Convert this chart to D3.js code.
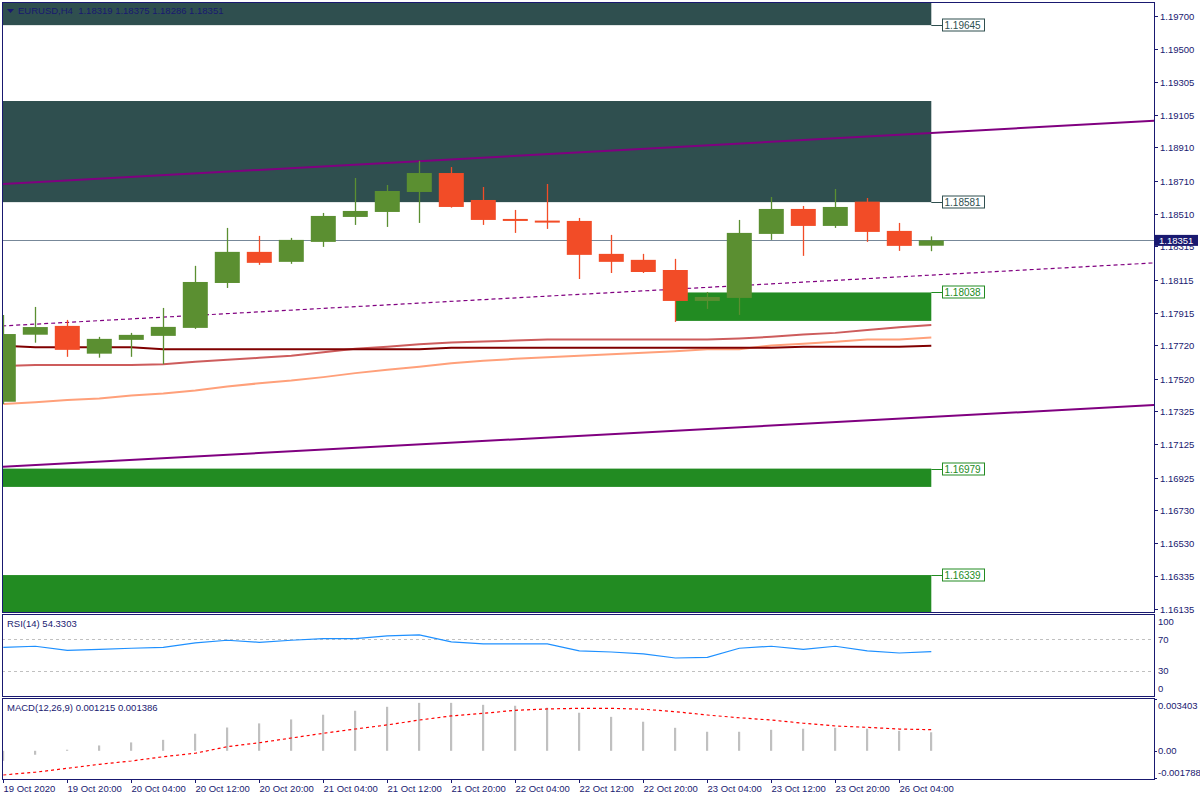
<!DOCTYPE html>
<html><head><meta charset="utf-8">
<script src="https://cdn.jsdelivr.net/npm/d3@7"></script>
<style>
body{margin:0;background:#fff;}
svg{display:block;font-family:"Liberation Sans",Arial,sans-serif;}
</style>
</head><body>
<svg id="c" width="1200" height="800"></svg>
<script>
// ---------------- DATA ----------------
const symbol = "EURUSD,H4";
const opens  = [1.17381,1.17784,1.17837,1.17670,1.17753,1.17777,1.17825,1.18095,1.18282,1.18222,1.18342,1.18492,1.18522,1.18642,1.18756,1.18594,1.18480,1.18470,1.18468,1.18270,1.18234,1.18173,1.17987,1.18005,1.18390,1.18540,1.18438,1.18584,1.18408,1.18319];
const highs  = [1.17902,1.17951,1.17873,1.17771,1.17795,1.17945,1.18198,1.18426,1.18378,1.18366,1.18516,1.18726,1.18684,1.18829,1.18792,1.18672,1.18534,1.18690,1.18486,1.18384,1.18270,1.18240,1.18041,1.18474,1.18612,1.18558,1.18660,1.18606,1.18456,1.18375];
const lows   = [1.17367,1.17736,1.17651,1.17646,1.17651,1.17607,1.17819,1.18065,1.18204,1.18210,1.18312,1.18444,1.18432,1.18456,1.18548,1.18444,1.18396,1.18420,1.18119,1.18155,1.18155,1.17861,1.17939,1.17903,1.18354,1.18258,1.18426,1.18342,1.18288,1.18286];
const closes = [1.17788,1.17830,1.17693,1.17759,1.17783,1.17831,1.18101,1.18282,1.18216,1.18354,1.18498,1.18528,1.18648,1.18756,1.18552,1.18474,1.18468,1.18462,1.18264,1.18222,1.18161,1.17987,1.18011,1.18396,1.18540,1.18438,1.18552,1.18402,1.18318,1.18351];

const timeLabelIndex = [0,2,4,6,8,10,12,14,16,18,20,22,24,26,28];
const timeLabels = ["19 Oct 2020","19 Oct 20:00","20 Oct 04:00","20 Oct 12:00","20 Oct 20:00","21 Oct 04:00","21 Oct 12:00","21 Oct 20:00","22 Oct 04:00","22 Oct 12:00","22 Oct 20:00","23 Oct 04:00","23 Oct 12:00","23 Oct 20:00","26 Oct 04:00"];

const priceTicks = [1.19700,1.19500,1.19305,1.19105,1.18910,1.18710,1.18510,1.18315,1.18115,1.17915,1.17720,1.17520,1.17325,1.17125,1.16925,1.16730,1.16530,1.16335,1.16135];

const maSlow   = [1.17717,1.17709,1.17709,1.17709,1.17709,1.17697,1.17697,1.17697,1.17697,1.17697,1.17697,1.17697,1.17697,1.17697,1.17705,1.17705,1.17705,1.17705,1.17705,1.17705,1.17705,1.17705,1.17705,1.17705,1.17705,1.17711,1.17711,1.17711,1.17711,1.17717];
const maMid    = [1.17596,1.17602,1.17602,1.17602,1.17602,1.17607,1.17621,1.17633,1.17645,1.17658,1.17679,1.17699,1.17712,1.17727,1.17737,1.17743,1.17749,1.17755,1.17755,1.17755,1.17755,1.17755,1.17755,1.17761,1.17771,1.17785,1.17795,1.17813,1.17829,1.17843];
const maFast   = [1.17368,1.17378,1.17392,1.17400,1.17418,1.17430,1.17448,1.17472,1.17492,1.17508,1.17529,1.17553,1.17573,1.17591,1.17613,1.17627,1.17639,1.17648,1.17657,1.17666,1.17675,1.17684,1.17697,1.17697,1.17719,1.17729,1.17741,1.17755,1.17755,1.17767];

// trend channel: [candle index, price]
const channelUpper = [[0,1.18690],[36,1.19071]];
const channelMid   = [[0,1.17837],[36,1.18216]];
const channelLower = [[0,1.16990],[36,1.17362]];

// zones
const zoneKind   = ["supply","supply","demand","demand","demand"];
const zoneFrom   = [-2,-2,21,-2,-2];
const zoneTo     = [29,29,29,29,29];
const zoneTop    = [1.19850,1.19189,1.18038,1.16979,1.16339];
const zoneBottom = [1.19645,1.18581,1.17867,1.16869,1.16000];
const zoneLabel  = [1.19645,1.18581,1.18038,1.16979,1.16339];

const rsiValues = [59.9,61.2,56.1,57.4,58.7,59.9,65.4,68.8,66.2,68.8,70.8,70.8,74.2,75.6,66.8,64.1,64.1,64.1,55.3,54.0,51.5,46.4,47.3,58.7,61.2,57.4,61.2,55.3,52.7,54.3303];
const rsiLevels = [70,30];
const rsiTicks  = [100,70,30,0];

const macdHist   = [-0.00066,-0.00026,0.00007,0.00035,0.00055,0.00072,0.00112,0.00153,0.00180,0.00206,0.00237,0.00263,0.00289,0.00315,0.00315,0.00302,0.00296,0.00283,0.00250,0.00223,0.00191,0.00151,0.00125,0.00125,0.00138,0.00145,0.00151,0.00145,0.00131,0.001215];
const macdSignal = [-0.00159,-0.00141,-0.00115,-0.00089,-0.00067,-0.00039,-0.00016,0.00027,0.00053,0.00084,0.00115,0.00143,0.00170,0.00202,0.00229,0.00246,0.00266,0.00275,0.00279,0.00279,0.00273,0.00257,0.00235,0.00217,0.00202,0.00181,0.00163,0.00154,0.00143,0.001386];
const macdTicks  = [0.003403,0.00,-0.001788];
const macdTickText = ["0.003403","0.00","-0.001788"];

// ---------------- LAYOUT ----------------
const FG = "#191970";
const BULL = "#5b8f31", BEAR = "#f24c27";
const SUPPLY = "#2f4f4f", DEMAND = "#228b22";
const FONT = "9.5px";
const Lx = 2, Rx = 1154;
const mainP = {top:2, bottom:612};
const rsiP  = {top:614, bottom:696};
const macdP = {top:698, bottom:779};

const svg = d3.select("#c");
const n = closes.length;
const x = d3.scaleLinear().domain([0, n-1]).range([3.3, 931.3]);
const y = d3.scaleLinear().domain([1.16135, 1.19700]).range([609, 16]);
const yR = d3.scaleLinear().domain([0,100]).range([694.8, 615.5]);
const yM = d3.scaleLinear().domain([-0.001788, 0.003403]).range([778, 699]);

const defs = svg.append("defs");
function clip(id, p){
  defs.append("clipPath").attr("id", id).append("rect")
    .attr("x", Lx+1).attr("y", p.top+1).attr("width", Rx-Lx-1).attr("height", p.bottom-p.top-1);
}
clip("cm", mainP); clip("cr", rsiP); clip("cd", macdP);

// ---------- main panel ----------
const gm = svg.append("g").attr("clip-path","url(#cm)");

// zones
zoneKind.forEach((k,i)=>{
  gm.append("rect")
    .attr("x", Math.max(x(zoneFrom[i]), Lx)).attr("width", x(zoneTo[i]) - Math.max(x(zoneFrom[i]), Lx))
    .attr("y", y(zoneTop[i])).attr("height", y(zoneBottom[i]) - y(zoneTop[i]))
    .attr("fill", k==="supply" ? SUPPLY : DEMAND);
});

// moving averages
const maLine = d3.line().x((d,i)=>x(i)).y(d=>y(d));
[[maFast,"#ffa07a"],[maMid,"#cd5c5c"],[maSlow,"#800000"]].forEach(([arr,col])=>{
  gm.append("path").attr("d", maLine(arr)).attr("fill","none").attr("stroke",col).attr("stroke-width",2);
});

// trend channel
function extend(pts){
  const [[i0,p0],[i1,p1]] = pts;
  const s = (p1-p0)/(i1-i0);
  const a = -2, b = 40;
  return [[x(a), y(p0 + s*(a-i0))],[x(b), y(p0 + s*(b-i0))]];
}
[[channelUpper,null],[channelLower,null],[channelMid,"4,3"]].forEach(([pts,dash])=>{
  const e = extend(pts);
  gm.append("line").attr("x1",e[0][0]).attr("y1",e[0][1]).attr("x2",e[1][0]).attr("y2",e[1][1])
    .attr("stroke","#800080").attr("stroke-width", dash?1.2:2).attr("stroke-dasharray", dash);
});

// current price line
gm.append("line").attr("x1",Lx).attr("x2",Rx)
  .attr("y1", Math.round(y(closes[n-1]))+0.5).attr("y2", Math.round(y(closes[n-1]))+0.5)
  .attr("stroke","#778899").attr("stroke-width",1);

// candles
const cg = gm.append("g");
d3.range(n).forEach(i=>{
  const o=opens[i], c=closes[i], col = c>=o ? BULL : BEAR;
  const cx = Math.round(x(i))+0.5;
  cg.append("line").attr("x1",cx).attr("x2",cx).attr("y1",y(highs[i])).attr("y2",y(lows[i]))
    .attr("stroke",col).attr("stroke-width",1.3);
  const yt = y(Math.max(o,c)), yb = y(Math.min(o,c));
  cg.append("rect").attr("x", x(i)-12.5).attr("width",25)
    .attr("y", yt).attr("height", Math.max(2, yb-yt)).attr("fill",col);
});

// zone labels (outside clip)
zoneKind.forEach((k,i)=>{
  const col = k==="supply" ? SUPPLY : DEMAND;
  const ly = Math.round(y(zoneLabel[i]))+0.5;
  svg.append("line").attr("x1", x(zoneTo[i])).attr("x2", 942).attr("y1", ly).attr("y2", ly).attr("stroke", col);
  svg.append("rect").attr("x",942.5).attr("y",ly-6.5).attr("width",42).attr("height",12)
    .attr("fill","#fff").attr("stroke",col);
  svg.append("text").attr("x",944.5).attr("y",ly).attr("dy","0.35em").attr("font-size","10px")
    .attr("fill", col).text(zoneLabel[i].toFixed(5));
});

// header
svg.append("path").attr("d","M7,9 L14,9 L10.5,13 Z").attr("fill",FG);
svg.append("text").attr("x",18).attr("y",11).attr("dy","0.35em").attr("font-size",FONT)
  .attr("fill",FG).style("white-space","pre")
  .text(`${symbol}  ${opens[n-1].toFixed(5)} ${highs[n-1].toFixed(5)} ${lows[n-1].toFixed(5)} ${closes[n-1].toFixed(5)}`);

// price axis
priceTicks.forEach(p=>{
  const ty = Math.round(y(p))+0.5;
  svg.append("line").attr("x1",Rx).attr("x2",Rx+4).attr("y1",ty).attr("y2",ty).attr("stroke",FG);
  svg.append("text").attr("x",1160).attr("y",ty).attr("dy","0.35em").attr("font-size",FONT)
    .attr("fill",FG).text(p.toFixed(5));
});
// current price label
{
  const cy = y(closes[n-1]);
  svg.append("rect").attr("x",Rx+1).attr("y",cy-5.5).attr("width",43).attr("height",11).attr("fill",FG);
  svg.append("text").attr("x",1159).attr("y",cy).attr("dy","0.35em").attr("font-size",FONT)
    .attr("fill","#fff").text(closes[n-1].toFixed(5));
}

// ---------- RSI panel ----------
const gr = svg.append("g").attr("clip-path","url(#cr)");
rsiLevels.forEach(v=>{
  gr.append("line").attr("x1",Lx).attr("x2",Rx).attr("y1",Math.round(yR(v))+0.5).attr("y2",Math.round(yR(v))+0.5)
    .attr("stroke","#c0c0c0").attr("stroke-dasharray","3,3");
});
gr.append("path").attr("d", d3.line().x((d,i)=>x(i)).y(d=>yR(d))(rsiValues))
  .attr("fill","none").attr("stroke","#1e90ff").attr("stroke-width",1.2);
svg.append("text").attr("x",7).attr("y",623.5).attr("dy","0.35em").attr("font-size",FONT).attr("fill",FG)
  .text(`RSI(14) ${rsiValues[n-1].toFixed(4)}`);
rsiTicks.forEach(v=>{
  const ty = Math.min(Math.max(yR(v), rsiP.top+8), rsiP.bottom-7);
  svg.append("text").attr("x",1158).attr("y",ty).attr("dy","0.35em").attr("font-size",FONT).attr("fill",FG).text(v);
});

// ---------- MACD panel ----------
const gd = svg.append("g").attr("clip-path","url(#cd)");
macdHist.forEach((v,i)=>{
  const y0 = yM(0), y1 = yM(v);
  gd.append("rect").attr("x", Math.round(x(i))-1).attr("width",2.2)
    .attr("y", Math.min(y0,y1)).attr("height", Math.max(1, Math.abs(y1-y0))).attr("fill","#c0c0c0");
});
gd.append("path").attr("d", d3.line().x((d,i)=>x(i)).y(d=>yM(d))(macdSignal))
  .attr("fill","none").attr("stroke","#ff0000").attr("stroke-width",1.2).attr("stroke-dasharray","3,3");
svg.append("text").attr("x",7).attr("y",707.5).attr("dy","0.35em").attr("font-size",FONT).attr("fill",FG)
  .text(`MACD(12,26,9) ${macdHist[n-1].toFixed(6)} ${macdSignal[n-1].toFixed(6)}`);
macdTicks.forEach((v,i)=>{
  const ty = Math.min(Math.max(yM(v), macdP.top+8), macdP.bottom-6);
  svg.append("line").attr("x1",Rx).attr("x2",Rx+3).attr("y1",Math.round(yM(v))+0.5).attr("y2",Math.round(yM(v))+0.5).attr("stroke",FG);
  svg.append("text").attr("x",1158).attr("y",ty).attr("dy","0.35em").attr("font-size",FONT).attr("fill",FG).text(macdTickText[i]);
});

// ---------- frames ----------
[mainP, rsiP, macdP].forEach(p=>{
  svg.append("rect").attr("x",Lx+0.5).attr("y",p.top+0.5).attr("width",Rx-Lx).attr("height",p.bottom-p.top)
    .attr("fill","none").attr("stroke",FG).attr("stroke-width",1);
});

// ---------- time axis ----------
timeLabelIndex.forEach((idx,k)=>{
  const tx = Math.round(x(idx))+0.5;
  svg.append("line").attr("x1",tx).attr("x2",tx).attr("y1",macdP.bottom).attr("y2",macdP.bottom+4).attr("stroke",FG);
  svg.append("text").attr("x",tx).attr("y",788.5).attr("dy","0.35em").attr("font-size",FONT).attr("fill",FG).text(timeLabels[k]);
});
</script>
</body></html>
